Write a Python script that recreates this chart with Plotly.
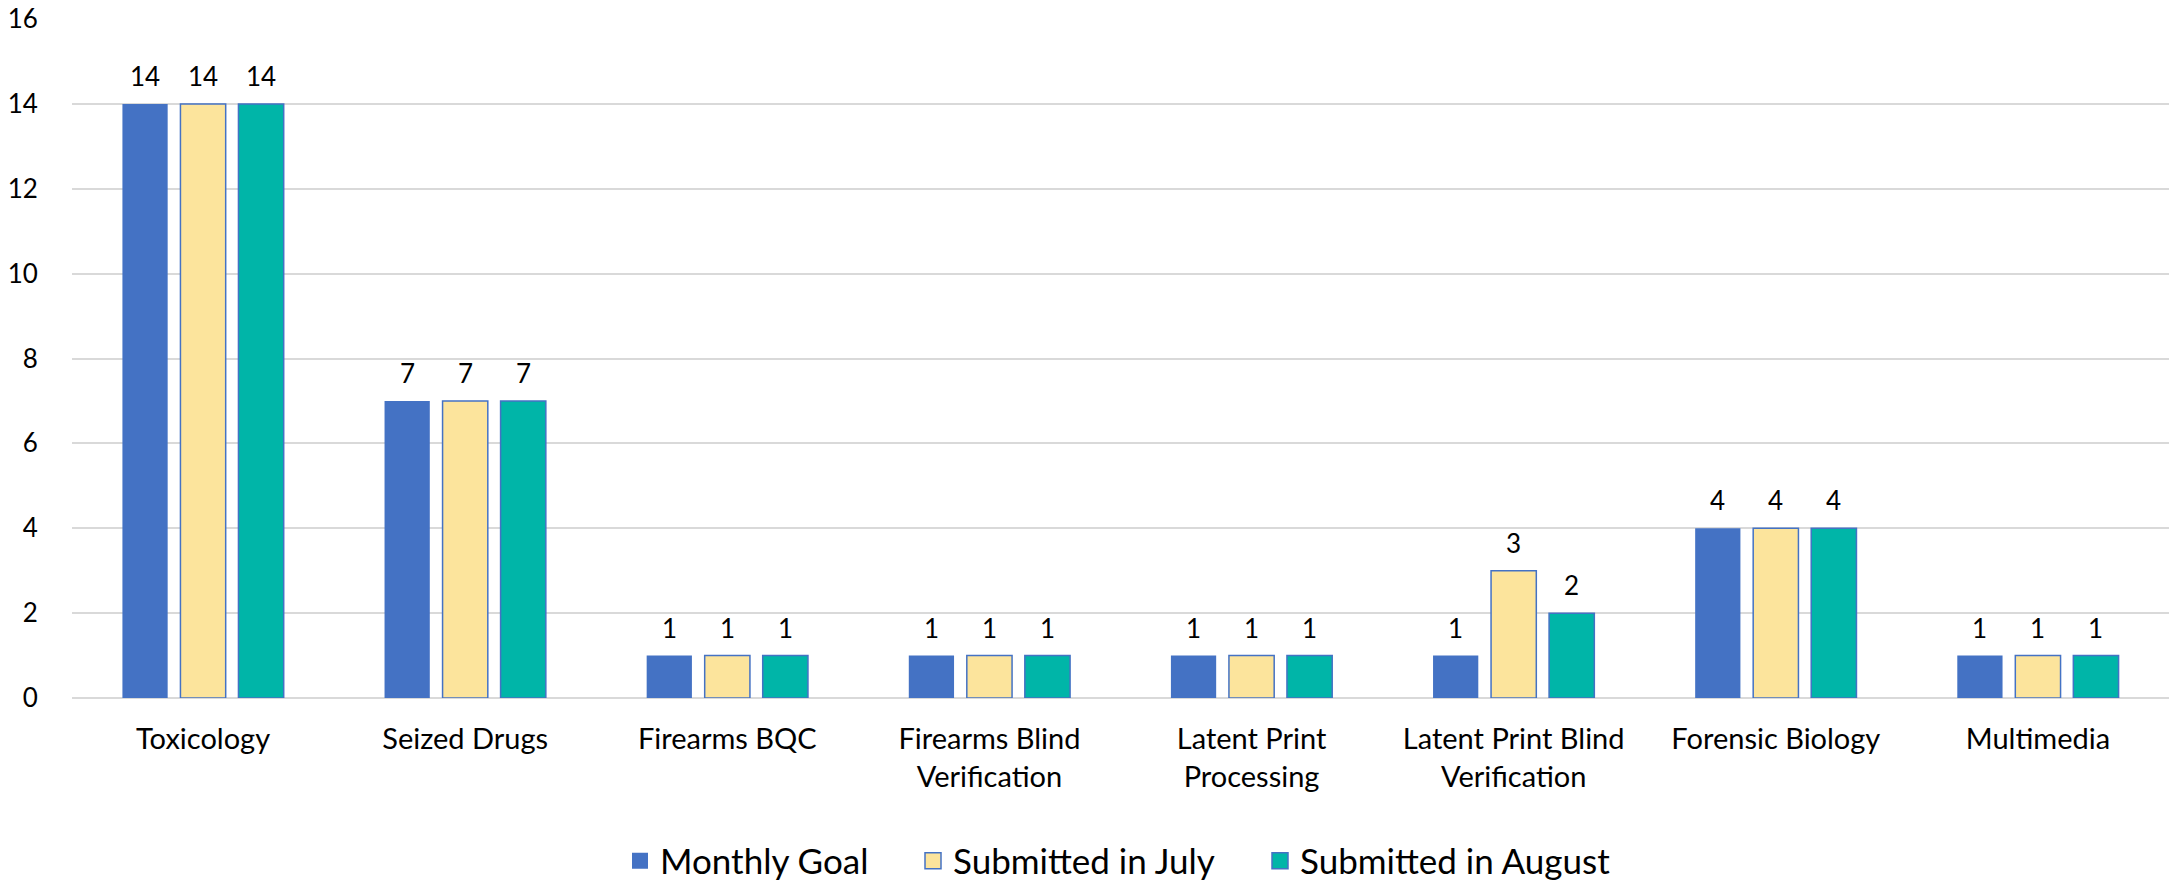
import plotly.graph_objects as go

categories = ["Toxicology", "Seized Drugs", "Firearms BQC", "Firearms Blind<br>Verification",
              "Latent Print<br>Processing", "Latent Print Blind<br>Verification",
              "Forensic Biology", "Multimedia"]
monthly_goal = [14, 7, 1, 1, 1, 1, 4, 1]
submitted_july = [14, 7, 1, 1, 1, 3, 4, 1]
submitted_august = [14, 7, 1, 1, 1, 2, 4, 1]
series_names = ["Monthly Goal", "Submitted in July", "Submitted in August"]
y_ticks = [0, 2, 4, 6, 8, 10, 12, 14, 16]

BLUE = "#4472C4"
YELLOW = "#FCE49C"
TEAL = "#00B5A8"
FONT = "Lato, Open Sans, sans-serif"

W, H = 2169, 885
ML, MR, MT, MB = 72, 0, 19, 187
BARGAP, GROUPGAP = 0.336, 0.22
plot_w = W - ML - MR
plot_h = H - MT - MB
slot = plot_w / len(categories) * (1 - BARGAP) / 3

fig = go.Figure()
series = [
    (series_names[0], monthly_goal, BLUE, BLUE, 0),
    (series_names[1], submitted_july, YELLOW, BLUE, 1.5),
    (series_names[2], submitted_august, TEAL, BLUE, 1.5),
]
legend_ids = ["legend", "legend2", "legend3"]
legend_px = [620, 913, 1260]  # left edge of each legend entry (pixels)

for i, (name, vals, fill, lc, lw) in enumerate(series):
    fig.add_trace(go.Bar(
        x=categories, y=vals, name=name, showlegend=False,
        marker=dict(color=fill, line=dict(color=lc, width=lw)),
    ))
    for c, v in zip(categories, vals):
        fig.add_annotation(x=c, y=v, xref="x", yref="y", text=str(v), showarrow=False,
                           xshift=(i - 1) * slot, yshift=28, yanchor="middle",
                           font=dict(family=FONT, size=26, color="#000000"))
    fig.add_trace(go.Scatter(
        x=[None], y=[None], mode="markers", name=name, showlegend=True,
        legend=legend_ids[i],
        marker=dict(symbol="square", size=22, color=fill,
                    line=dict(color=lc, width=lw)),
    ))

ly = (H - 861) / H
leg_common = dict(orientation="h", yanchor="middle", y=ly, yref="container",
                  xref="container", xanchor="left",
                  font=dict(family=FONT, size=35, color="#000000"),
                  bgcolor="rgba(0,0,0,0)")
fig.update_layout(
    width=W, height=H,
    margin=dict(l=ML, r=MR, t=MT, b=MB),
    paper_bgcolor="white", plot_bgcolor="white",
    barmode="group", bargap=BARGAP, bargroupgap=GROUPGAP,
    font=dict(family=FONT, size=26, color="#000000"),
    showlegend=True,
    legend=dict(x=legend_px[0] / W, **leg_common),
    legend2=dict(x=legend_px[1] / W, **leg_common),
    legend3=dict(x=legend_px[2] / W, **leg_common),
)
fig.update_xaxes(showgrid=False, showline=False, ticks="outside", ticklen=15,
                 tickcolor="rgba(0,0,0,0)", tickfont=dict(family=FONT, size=29),
                 zeroline=False, automargin=False)
fig.update_yaxes(range=[0, 16], tickvals=y_ticks, showgrid=True, gridcolor="#D9D9D9",
                 gridwidth=1.5, zeroline=True, zerolinecolor="#D9D9D9", zerolinewidth=1.5,
                 showline=False, ticks="outside", ticklen=28, tickcolor="rgba(0,0,0,0)",
                 tickfont=dict(family=FONT, size=26), automargin=False)

fig.write_html("out.html", config={"displayModeBar": False},
               post_script="document.body.style.margin='0';document.body.style.overflow='hidden';")
